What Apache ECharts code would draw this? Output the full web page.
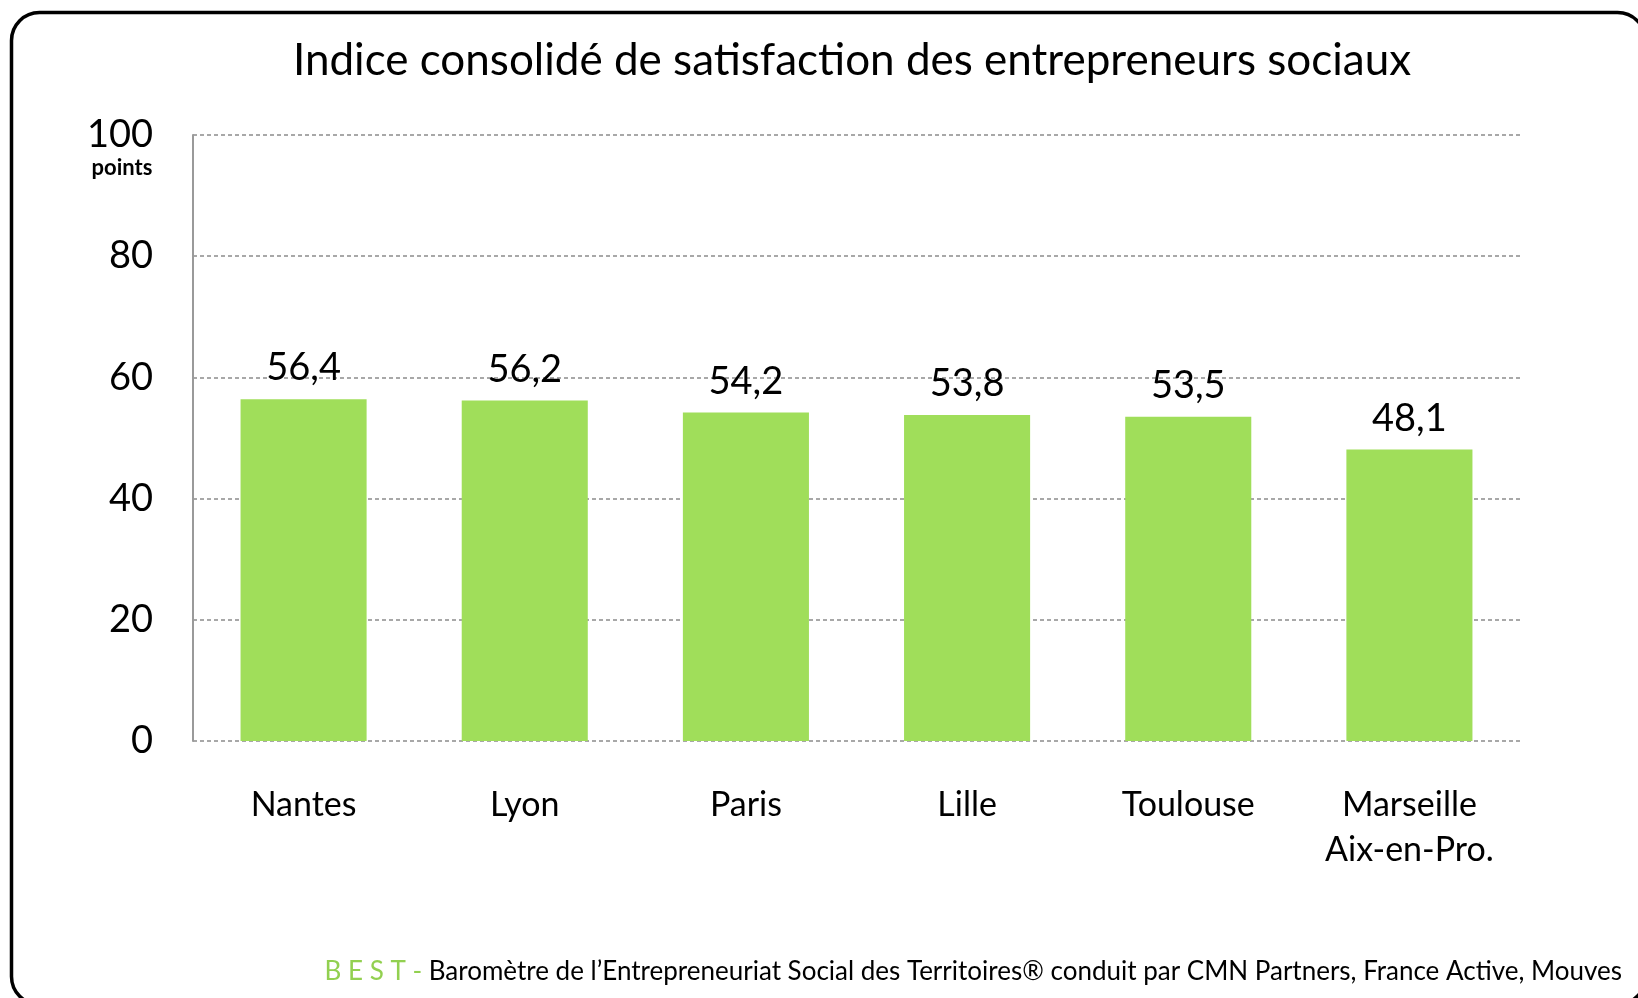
<!DOCTYPE html>
<html>
<head>
<meta charset="utf-8">
<script src="https://cdn.jsdelivr.net/npm/echarts@6/dist/echarts.min.js"></script>
<style>
html,body{margin:0;padding:0;background:#fff;}
#chart{width:1638px;height:998px;}
</style>
</head>
<body>
<div id="chart"></div>
<script>
const categories = ['Nantes', 'Lyon', 'Paris', 'Lille', 'Toulouse', 'Marseille\nAix-en-Pro.'];
const values = [56.4, 56.2, 54.2, 53.8, 53.5, 48.1];
const yTicks = [0, 20, 40, 60, 80, 100];
const titleText = 'Indice consolidé de satisfaction des entrepreneurs sociaux';
const unitText = 'points';
const footerPrefix = 'B E S T - ';
const footerText = 'Baromètre de l’Entrepreneuriat Social des Territoires® conduit par CMN Partners, France Active, Mouves';

const FONT = 'Lato';
const chart = echarts.init(document.getElementById('chart'));
chart.setOption({
  backgroundColor: '#fff',
  animation: false,
  title: {
    text: titleText,
    left: 847,
    top: 34,
    textAlign: 'center',
    textStyle: { fontFamily: FONT, fontSize: 44, fontWeight: 'normal', color: '#000' }
  },
  grid: { left: 193, right: 118, top: 135, bottom: 257, containLabel: false },
  xAxis: {
    type: 'category',
    data: categories,
    axisLine: { show: false },
    axisTick: { show: false },
    axisLabel: {
      fontFamily: FONT, fontSize: 34, color: '#000', margin: 42, lineHeight: 45
    }
  },
  yAxis: {
    type: 'value',
    min: 0, max: 100, interval: 20,
    axisLine: { show: true, lineStyle: { color: '#9a9a9a', width: 2 } },
    axisTick: { show: false },
    splitLine: { show: true, lineStyle: { color: '#8c8c8c', type: [4, 3], width: 1.5 } },
    axisLabel: {
      fontFamily: FONT, fontSize: 38, color: '#000', margin: 40,
      formatter: v => yTicks.includes(v) ? String(v) : ''
    }
  },
  series: [{
    type: 'bar',
    data: values,
    barWidth: '57%',
    itemStyle: { color: '#A0DE5A' },
    label: {
      show: true, position: 'top', distance: 12,
      fontFamily: FONT, fontSize: 38, color: '#000',
      formatter: p => String(p.value).replace('.', ',')
    }
  }],
  graphic: [
    { type: 'rect', left: 9, top: 10, shape: { width: 1634, height: 992, r: 28 },
      style: { fill: 'none', stroke: '#000', lineWidth: 3.5 }, z: 100 },
    { type: 'text', x: 122, y: 168, style: { text: unitText, fontFamily: FONT, fontSize: 22, fontWeight: 'bold', fill: '#000', align: 'center', verticalAlign: 'middle' } },
    { type: 'text', right: 16, top: 959, style: {
        text: '{g|' + footerPrefix + '}{b|' + footerText + '}',
        rich: {
          g: { fontFamily: FONT, fontSize: 26, fill: '#92D050', color: '#92D050' },
          b: { fontFamily: FONT, fontSize: 26, fill: '#000', color: '#000' }
        }
    } }
  ]
});
</script>
</body>
</html>
